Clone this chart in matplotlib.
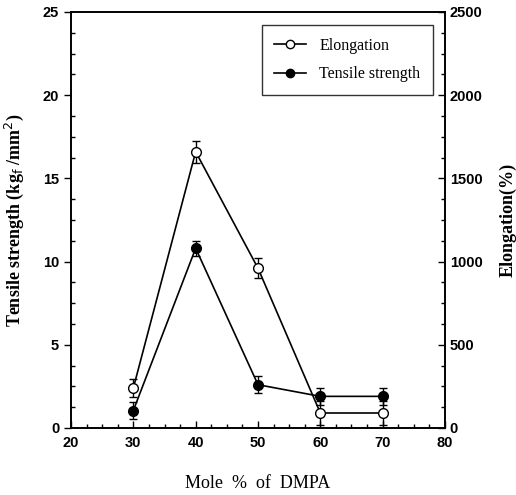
import matplotlib.pyplot as plt
from matplotlib.lines import Line2D
from matplotlib.ticker import MultipleLocator

# data
mole_pct = [30, 40, 50, 60, 70]
elongation = [240, 1660, 960, 90, 90]          # %
elong_err = [55, 65, 60, 70, 70]
tensile = [1.05, 10.8, 2.6, 1.9, 1.9]           # kgf/mm2
tensile_err = [0.5, 0.45, 0.5, 0.5, 0.5]

fig = plt.figure(figsize=(5.16, 4.95), dpi=100)
ax = fig.add_axes([0.1376, 0.1354, 0.7248, 0.8404])
ax2 = ax.twinx()

ax2.errorbar(mole_pct, elongation, yerr=elong_err, color='black', lw=1.2,
             marker='o', ms=7, mfc='white', mec='black', mew=1.0,
             capsize=3, elinewidth=1.0)
ax.errorbar(mole_pct, tensile, yerr=tensile_err, color='black', lw=1.2,
            marker='o', ms=7, mfc='black', mec='black',
            capsize=3, elinewidth=1.0)

ax.set_xlim(20, 80)
ax.set_ylim(0, 25)
ax2.set_ylim(0, 2500)
ax.xaxis.set_major_locator(MultipleLocator(10))
ax.xaxis.set_minor_locator(MultipleLocator(2.5))
ax.yaxis.set_major_locator(MultipleLocator(5))
ax.yaxis.set_minor_locator(MultipleLocator(1.25))
ax2.yaxis.set_major_locator(MultipleLocator(500))
ax2.yaxis.set_minor_locator(MultipleLocator(125))

tick_font = {'family': 'Liberation Sans', 'weight': 'bold', 'size': 10.5}
for a in (ax, ax2):
    a.tick_params(which='both', direction='in', width=1.0)
    a.tick_params(which='major', length=5)
    a.tick_params(which='minor', length=3)
    for lab in a.get_xticklabels() + a.get_yticklabels():
        lab.set_fontproperties(tick_font)
    for s in a.spines.values():
        s.set_linewidth(1.2)
ax.tick_params(axis='y', which='major', direction='out')
ax.tick_params(axis='x', pad=6)

serif = 'Liberation Serif'
ax.set_xlabel('Mole  %  of  DMPA', family=serif, fontsize=13, labelpad=18)
ax.set_ylabel(r'Tensile strength (kg$_{\rm f}$ /mm$^{2}$)', family=serif,
              fontsize=13, fontweight='bold', labelpad=12)
fig.text(508 / 516, 0.5 * (0.1354 + 0.9758), 'Elongation(%)', family=serif,
         fontsize=13, fontweight='bold', rotation=90,
         ha='center', va='center')

handles = [Line2D([], [], color='black', lw=1.2, marker='o', ms=6,
                  mfc='white', mec='black'),
           Line2D([], [], color='black', lw=1.2, marker='o', ms=6,
                  mfc='black', mec='black')]
leg = ax.legend(handles, ['Elongation', 'Tensile strength'],
                loc='upper right', bbox_to_anchor=(0.968, 0.969),
                borderaxespad=0,
                prop={'family': serif, 'size': 11.5}, frameon=True,
                fancybox=False, edgecolor='black', handlelength=2.0,
                borderpad=0.8, labelspacing=0.8)
leg.get_frame().set_linewidth(1.0)

fig.savefig('out.png', dpi=100)
